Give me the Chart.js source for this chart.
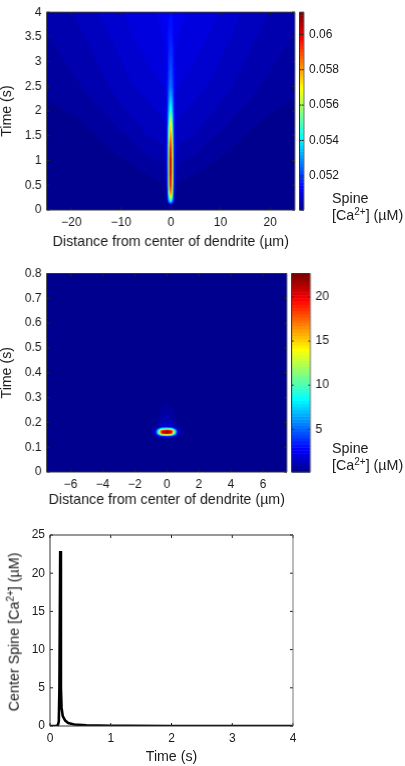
<!DOCTYPE html>
<html>
<head>
<meta charset="utf-8">
<title>Spine calcium</title>
<script src="https://cdn.jsdelivr.net/npm/chart.js@4"></script>
<style>
  html, body { margin: 0; padding: 0; background: #fff; }
  body { width: 405px; height: 766px; position: relative; overflow: hidden; font-family: "Liberation Sans", Arial, sans-serif; color: #1a1a1a; }
  canvas { position: absolute; }
  .label { position: absolute; font-size: 14.3px; line-height: 16.5px; white-space: nowrap; }
  .label sup { font-size: 10px; line-height: 0; vertical-align: 5px; }
  #centerTitle { left: 14px; top: 632px; transform: translate(-50%, -50%) rotate(-90deg); }
</style>
</head>
<body>
<canvas id="longMap"></canvas>
<canvas id="longBar"></canvas>
<canvas id="shortMap"></canvas>
<canvas id="shortBar"></canvas>
<canvas id="centerLine"></canvas>
<div class="label" style="left:332px;top:190px">Spine<br>[Ca<sup>2+</sup>] (µM)</div>
<div class="label" style="left:332px;top:440px">Spine<br>[Ca<sup>2+</sup>] (µM)</div>
<div class="label" id="centerTitle">Center Spine [Ca<sup>2+</sup>] (µM)</div>
<script>
// top map: distance from center (um, both sides are the same), time (s), Ca (uM)
const longDistance = [0, 0.3, 0.5, 0.7, 1.2, 3, 5, 8, 12, 16, 20, 25];
const longTime = [0, 0.1, 0.15, 0.2, 0.3, 0.4, 0.5, 0.75, 1, 1.25, 1.5, 1.75, 2, 2.25, 2.5, 3, 3.5, 4];
const longCa = [
  [0.05007, 0.05007, 0.05007, 0.05007, 0.05007, 0.05007, 0.05007, 0.05007, 0.05007, 0.05007, 0.05007, 0.05007],
  [0.0502, 0.0501, 0.05007, 0.05007, 0.05007, 0.05007, 0.05007, 0.05007, 0.05007, 0.05007, 0.05007, 0.05007],
  [0.0535, 0.0526, 0.0513, 0.0504, 0.05009, 0.05007, 0.05007, 0.05007, 0.05007, 0.05007, 0.05007, 0.05007],
  [0.0553, 0.054, 0.0522, 0.0506, 0.05012, 0.05008, 0.05007, 0.05007, 0.05007, 0.05007, 0.05007, 0.05007],
  [0.0584, 0.0562, 0.0533, 0.0508, 0.05016, 0.0501, 0.05008, 0.05007, 0.05007, 0.05007, 0.05007, 0.05007],
  [0.0597, 0.0571, 0.0538, 0.051, 0.0502, 0.05015, 0.05012, 0.05007, 0.05007, 0.05007, 0.05007, 0.05007],
  [0.0605, 0.0576, 0.0542, 0.0512, 0.05023, 0.0502, 0.05017, 0.05008, 0.05007, 0.05007, 0.05007, 0.05007],
  [0.0612, 0.0581, 0.0544, 0.0513, 0.05035, 0.05029, 0.05025, 0.05018, 0.05008, 0.05007, 0.05007, 0.05007],
  [0.0612, 0.0581, 0.0545, 0.0514, 0.05045, 0.05041, 0.05036, 0.05027, 0.05018, 0.05008, 0.05007, 0.05007],
  [0.0604, 0.0576, 0.0543, 0.0514, 0.05058, 0.05053, 0.05047, 0.05035, 0.05026, 0.05014, 0.05007, 0.05007],
  [0.059, 0.0566, 0.0538, 0.0514, 0.05067, 0.05063, 0.05059, 0.05044, 0.05033, 0.05021, 0.0501, 0.05007],
  [0.0572, 0.0553, 0.0532, 0.0514, 0.05076, 0.0507, 0.05065, 0.05054, 0.0504, 0.05029, 0.05018, 0.0501],
  [0.055, 0.0538, 0.0526, 0.0514, 0.05083, 0.05077, 0.05071, 0.05063, 0.05047, 0.05035, 0.05026, 0.05018],
  [0.0537, 0.0531, 0.0522, 0.0514, 0.05089, 0.05083, 0.05077, 0.05069, 0.05055, 0.05042, 0.05032, 0.05024],
  [0.0528, 0.0524, 0.0519, 0.0514, 0.05095, 0.0509, 0.05083, 0.05075, 0.05061, 0.05047, 0.05037, 0.05028],
  [0.0521, 0.052, 0.0516, 0.0513, 0.05105, 0.05099, 0.05094, 0.05084, 0.05069, 0.05056, 0.05045, 0.05033],
  [0.0517, 0.0516, 0.0515, 0.0513, 0.05113, 0.05106, 0.05101, 0.05093, 0.05078, 0.05063, 0.05052, 0.05041],
  [0.0515, 0.0514, 0.0514, 0.0513, 0.05118, 0.05112, 0.05108, 0.051, 0.05085, 0.05072, 0.05058, 0.05048]
];
const longRange = [0.05007, 0.06125];
const longXTicks = [-20, -10, 0, 10, 20];
const longYTicks = [0, 0.5, 1, 1.5, 2, 2.5, 3, 3.5, 4];
const longBarTicks = [0.052, 0.054, 0.056, 0.058, 0.06];

// middle map
const shortDistance = [0, 0.3, 0.5, 0.7, 1, 7.5];
const shortTime = [0, 0.13, 0.14, 0.148, 0.153, 0.16, 0.167, 0.172, 0.18, 0.2, 0.25, 0.3, 0.4, 0.8];
const shortCa = [
  [0.15, 0.15, 0.15, 0.15, 0.15, 0.15],
  [0.2, 0.18, 0.15, 0.15, 0.15, 0.15],
  [2, 1.6, 0.8, 0.3, 0.2, 0.15],
  [12, 10.5, 5, 1, 0.3, 0.15],
  [20, 18, 9, 1.6, 0.4, 0.15],
  [22.7, 21.5, 11, 2, 0.4, 0.15],
  [20, 18, 9, 1.6, 0.4, 0.15],
  [12, 10.5, 5, 1, 0.35, 0.15],
  [2.5, 2, 1, 0.5, 0.3, 0.15],
  [1.2, 1, 0.6, 0.35, 0.25, 0.15],
  [0.7, 0.55, 0.4, 0.3, 0.2, 0.15],
  [0.35, 0.3, 0.25, 0.2, 0.18, 0.15],
  [0.2, 0.2, 0.18, 0.16, 0.15, 0.15],
  [0.15, 0.15, 0.15, 0.15, 0.15, 0.15]
];
const shortRange = [0.15, 22.67];
const shortXTicks = [-6, -4, -2, 0, 2, 4, 6];
const shortYTicks = [0, 0.1, 0.2, 0.3, 0.4, 0.5, 0.6, 0.7, 0.8];
const shortBarTicks = [5, 10, 15, 20];

// bottom trace
const centerTime = [0, 0.1, 0.13, 0.145, 0.155, 0.168, 0.18, 0.19, 0.21, 0.25, 0.3, 0.4, 0.6, 0.8, 1, 1.3, 2, 3, 4];
const centerCa = [0, 0, 0.1, 0.6, 5, 22.9, 5, 2.4, 1.3, 0.7, 0.4, 0.2, 0.08, 0.05, 0.03, 0.01, 0, 0, 0];
const centerXTicks = [0, 1, 2, 3, 4];
const centerYTicks = [0, 5, 10, 15, 20, 25];

const tickFont = { family: '"Liberation Sans", Arial, sans-serif', size: 12 };
const titleFont = { family: '"Liberation Sans", Arial, sans-serif', size: 14.2 };
const inkColor = '#1a1a1a';

// matlab jet with 64 steps
function jetColor(level) {
  const x = (level + 1) / 64;
  const part = (v) => Math.round(255 * Math.max(0, Math.min(1, v)));
  return [
    part(Math.min(4 * x - 1.5, -4 * x + 4.5)),
    part(Math.min(4 * x - 0.5, -4 * x + 3.5)),
    part(Math.min(4 * x + 0.5, -4 * x + 2.5))
  ];
}

function levelOf(value, range) {
  const level = Math.floor((value - range[0]) / (range[1] - range[0]) * 64);
  return Math.max(0, Math.min(63, level));
}

function bracket(list, v) {
  let i = 0;
  while (i < list.length - 2 && v > list[i + 1]) i++;
  return [i, Math.max(0, Math.min(1, (v - list[i]) / (list[i + 1] - list[i])))];
}

// paints the value table behind the axes, shaded across the cells
const heatField = {
  id: 'heatField',
  beforeDatasetsDraw(chart, args, opts) {
    if (!opts.grid) return;
    const { x: xScale, y: yScale } = chart.scales;
    const area = chart.chartArea;
    const w = Math.round(area.right - area.left);
    const h = Math.round(area.bottom - area.top);
    const off = document.createElement('canvas');
    off.width = w;
    off.height = h;
    const offCtx = off.getContext('2d');
    const image = offCtx.createImageData(w, h);
    for (let py = 0; py < h; py++) {
      const [row, fy] = bracket(opts.ys, yScale.getValueForPixel(area.top + py + 0.5));
      for (let px = 0; px < w; px++) {
        const [col, fx] = bracket(opts.xs, Math.abs(xScale.getValueForPixel(area.left + px + 0.5)));
        const low = opts.grid[row][col] * (1 - fx) + opts.grid[row][col + 1] * fx;
        const high = opts.grid[row + 1][col] * (1 - fx) + opts.grid[row + 1][col + 1] * fx;
        const rgb = jetColor(levelOf(low * (1 - fy) + high * fy, opts.range));
        const at = (py * w + px) * 4;
        image.data[at] = rgb[0];
        image.data[at + 1] = rgb[1];
        image.data[at + 2] = rgb[2];
        image.data[at + 3] = 255;
      }
    }
    offCtx.putImageData(image, 0, 0);
    const ctx = chart.ctx;
    const width = area.right - area.left;
    const height = area.bottom - area.top;
    ctx.save();
    ctx.beginPath();
    ctx.rect(area.left, area.top, width, height);
    ctx.clip();
    ctx.drawImage(off, area.left, area.top, width, height);
    // the reference is a soft scan, take the edge off the colour steps
    ctx.filter = 'blur(0.5px)';
    ctx.drawImage(off, area.left, area.top, width, height);
    ctx.restore();
  }
};

// colorbar steps, placed by the y scale
const colorSteps = {
  id: 'colorSteps',
  beforeDatasetsDraw(chart, args, opts) {
    if (!opts.range) return;
    const area = chart.chartArea;
    const yScale = chart.scales.y;
    const span = opts.range[1] - opts.range[0];
    for (let i = 0; i < 64; i++) {
      const top = yScale.getPixelForValue(opts.range[0] + span * (i + 1) / 64);
      const bottom = yScale.getPixelForValue(opts.range[0] + span * i / 64);
      const rgb = jetColor(i);
      chart.ctx.fillStyle = `rgb(${rgb[0]},${rgb[1]},${rgb[2]})`;
      chart.ctx.fillRect(area.left, top, area.right - area.left, bottom - top + 0.5);
    }
  }
};

// box with small ticks pointing inward on all four sides
const axisBox = {
  id: 'axisBox',
  afterDatasetsDraw(chart, args, opts) {
    const { ctx, chartArea: a, scales } = chart;
    const len = opts.tick === undefined ? 3 : opts.tick;
    ctx.save();
    ctx.strokeStyle = '#222';
    ctx.lineWidth = 1;
    ctx.beginPath();
    scales.y.ticks.forEach((t) => {
      const y = scales.y.getPixelForValue(t.value);
      ctx.moveTo(a.left, y); ctx.lineTo(a.left + len, y);
      ctx.moveTo(a.right, y); ctx.lineTo(a.right - len, y);
    });
    if (scales.x.options.display) {
      scales.x.ticks.forEach((t) => {
        const x = scales.x.getPixelForValue(t.value);
        ctx.moveTo(x, a.bottom); ctx.lineTo(x, a.bottom - len);
        ctx.moveTo(x, a.top); ctx.lineTo(x, a.top + len);
      });
    }
    ctx.stroke();
    ctx.strokeStyle = '#333';
    ctx.beginPath();
    ctx.moveTo(a.left, a.bottom); ctx.lineTo(a.left, a.top); ctx.lineTo(a.right, a.top);
    ctx.moveTo(a.left, a.bottom); ctx.lineTo(a.right, a.bottom);
    ctx.stroke();
    ctx.strokeStyle = '#777';
    ctx.beginPath();
    ctx.moveTo(a.right, a.top); ctx.lineTo(a.right, a.bottom);
    ctx.stroke();
    ctx.restore();
  }
};

Chart.register(heatField, colorSteps, axisBox);

function place(id, left, top, width, height) {
  const el = document.getElementById(id);
  el.width = width;
  el.height = height;
  el.style.left = left + 'px';
  el.style.top = top + 'px';
  el.style.width = width + 'px';
  el.style.height = height + 'px';
  return el;
}

function tickText(v) {
  return String(v).replace('-', '\u2212');
}

function linearAxis(range, ticks, title, titlePad) {
  return {
    type: 'linear',
    min: range[0],
    max: range[1],
    grid: { display: false, drawTicks: false },
    border: { display: false },
    afterBuildTicks: (s) => { s.ticks = ticks.map((v) => ({ value: v })); },
    ticks: { color: inkColor, font: tickFont, padding: 5, maxRotation: 0, autoSkip: false, callback: tickText },
    title: title ? { display: true, text: title, color: inkColor, font: titleFont, padding: titlePad } : { display: false }
  };
}

function panelOptions(box, xAxis, yAxis, plugins) {
  xAxis.afterFit = (s) => { s.height = box.bottomSpace; };
  yAxis.afterFit = (s) => { s.width = box.leftSpace; };
  return {
    responsive: false,
    animation: false,
    events: [],
    layout: { padding: { left: 0, top: box.topSpace, right: box.rightSpace, bottom: 0 } },
    scales: { x: xAxis, y: yAxis },
    plugins: Object.assign({ legend: { display: false }, tooltip: { enabled: false } }, plugins)
  };
}

function mapChart(id, top, height, plotTop, plotBottom, plotRight, xRange, yRange, xTicks, yTicks, field) {
  new Chart(place(id, 0, top, plotRight + 6, height), {
    type: 'scatter',
    data: { datasets: [{ data: [], pointRadius: 0 }] },
    options: panelOptions(
      { leftSpace: 46.5, topSpace: plotTop - top, rightSpace: 6, bottomSpace: top + height - plotBottom },
      linearAxis(xRange, xTicks, 'Distance from center of dendrite (\u00b5m)', { top: 3, bottom: 4 }),
      linearAxis(yRange, yTicks, 'Time (s)', { top: -1.5, bottom: 4 }),
      { heatField: field }
    )
  });
}

function barChart(id, left, top, height, plotLeft, plotRight, plotTop, plotBottom, range, ticks) {
  const width = plotRight - left + 44;
  const yAxis = linearAxis(range, ticks);
  yAxis.position = 'right';
  const xAxis = { type: 'linear', display: false, min: 0, max: 1 };
  new Chart(place(id, left, top, width, height), {
    type: 'scatter',
    data: { datasets: [{ data: [], pointRadius: 0 }] },
    options: {
      responsive: false,
      animation: false,
      events: [],
      layout: { padding: { left: plotLeft - left, top: plotTop - top, bottom: top + height - plotBottom, right: 0 } },
      scales: { x: xAxis, y: Object.assign(yAxis, { afterFit: (s) => { s.width = width - (plotRight - left); } }) },
      plugins: { legend: { display: false }, tooltip: { enabled: false }, colorSteps: { range: range }, axisBox: { tick: 2 } }
    }
  });
}

mapChart('longMap', 0, 255, 5, 210, 294.5, [-25, 25], [0, 4], longXTicks, longYTicks,
  { xs: longDistance, ys: longTime, grid: longCa, range: longRange });
barChart('longBar', 295, 0, 225, 299.5, 304, 5, 210, longRange, longBarTicks);

mapChart('shortMap', 255, 258, 273.5, 472, 286.5, [-7.5, 7.5], [0, 0.8], shortXTicks, shortYTicks,
  { xs: shortDistance, ys: shortTime, grid: shortCa, range: shortRange });
barChart('shortBar', 288, 255, 230, 291.5, 310.5, 273.5, 472, shortRange, shortBarTicks);

new Chart(place('centerLine', 0, 520, 305, 246), {
  type: 'scatter',
  data: {
    datasets: [{
      data: centerTime.map((t, i) => ({ x: t, y: centerCa[i] })),
      showLine: true,
      borderColor: '#000',
      borderWidth: 2.6,
      borderJoinStyle: 'miter',
      pointRadius: 0,
      tension: 0
    }]
  },
  options: panelOptions(
    { leftSpace: 50, topSpace: 15, rightSpace: 12, bottomSpace: 40 },
    linearAxis([0, 4], centerXTicks, 'Time (s)', { top: 6, bottom: 0 }),
    linearAxis([0, 25], centerYTicks),
    {}
  )
});
</script>
</body>
</html>
